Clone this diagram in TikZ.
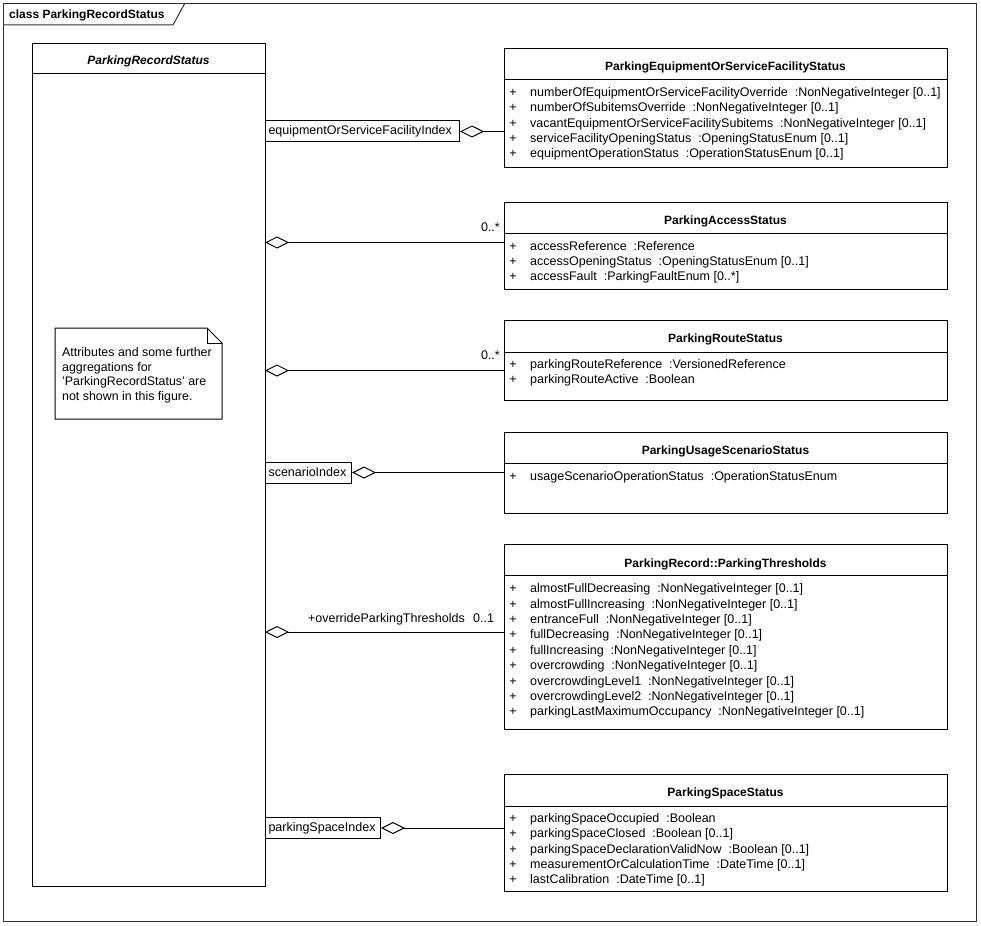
\documentclass[tikz,border=0pt]{standalone}
\usepackage{fontspec}
\setmainfont{Liberation Sans}
\usetikzlibrary{arrows.meta}
\newcommand\tsp{\hspace{6.9pt}}
\newcommand\attrlist[4]{%
  \foreach \t [count=\i from 0] in {#4}{%
    \node[plus] (#1p\i) at (513,#2+\i*#3) {+};
    \node[attr] (#1a\i) at (530,#2+\i*#3) {\t};
  }}
\begin{document}
\begin{tikzpicture}[x=1pt,y=-1pt,
  box/.style={draw=black,line width=1pt,fill=white,inner sep=0pt},
  ttl/.style={font=\fontsize{12}{14}\selectfont\bfseries,inner sep=0pt,anchor=mid,yshift=-3pt},
  attr/.style={font=\fontsize{12.5}{14}\selectfont,inner sep=0pt,anchor=mid west,yshift=-2pt},
  plus/.style={font=\fontsize{12.5}{14}\selectfont,inner sep=0pt,anchor=mid,yshift=-2pt},
  qual/.style={draw=black,line width=1pt,font=\fontsize{12.5}{14}\selectfont,inner xsep=3pt,inner ysep=0pt,minimum height=21pt,anchor=west,align=left},
  aggr/.style={{Diamond[open,length=24pt,width=12pt]}-,line width=1pt},
  lbl/.style={font=\fontsize{12.5}{14}\selectfont,inner sep=0pt,yshift=-2pt},
  hdr/.style={line width=1pt}
]
\useasboundingbox (0,0) rectangle (981,925);
% frame
\node[draw=black!80,line width=1pt,minimum width=973pt,minimum height=918pt,anchor=north west,inner sep=0pt] (frame) at (3,3) {};
\draw[draw=black!80,line width=1pt] (3,25) -- (173,25) -- (185,3);
\node[font=\fontsize{12}{14}\selectfont\bfseries,inner sep=0pt,anchor=mid west,yshift=-2pt] (frametitle) at (9,14) {class ParkingRecordStatus};

% main class
\node[box,minimum width=233pt,minimum height=843pt,anchor=north west] (main) at (32,43) {};
\draw[hdr] ([yshift=-31pt]main.north west) -- ([yshift=-31pt]main.north east);
\node[ttl,font=\fontsize{12}{14}\selectfont\bfseries\itshape] (maint) at (148.5,59) {ParkingRecordStatus};

% note
\draw[line width=1pt,fill=white] (55,328) -- (207,328) -- (222,343) -- (222,419) -- (55,419) -- cycle;
\draw[line width=0.8pt] (207,328) -- (207,343) -- (222,343);
\node[font=\fontsize{12.4}{14.6}\selectfont,inner sep=0pt,anchor=north west,align=left] (note) at (62,347.5)
  {Attributes and some further\\aggregations for\\'ParkingRecordStatus' are\\not shown in this figure.};

% ParkingEquipmentOrServiceFacilityStatus
\node[box,minimum width=443pt,minimum height=119pt,anchor=north west] (eq) at (504,48) {};
\draw[hdr] ([yshift=-32pt]eq.north west) -- ([yshift=-32pt]eq.north east);
\node[ttl] (eqt) at (725.5,65) {ParkingEquipmentOrServiceFacilityStatus};
\attrlist{eq}{92}{15.2}{{numberOfEquipmentOrServiceFacilityOverride\tsp:NonNegativeInteger [0..1]},
  {numberOfSubitemsOverride\tsp:NonNegativeInteger [0..1]},
  {vacantEquipmentOrServiceFacilitySubitems\tsp:NonNegativeInteger [0..1]},
  {serviceFacilityOpeningStatus\tsp:OpeningStatusEnum [0..1]},
  {equipmentOperationStatus\tsp:OperationStatusEnum [0..1]}}

% ParkingAccessStatus
\node[box,minimum width=443pt,minimum height=87pt,anchor=north west] (acc) at (504,202) {};
\draw[hdr] ([yshift=-31pt]acc.north west) -- ([yshift=-31pt]acc.north east);
\node[ttl] (acct) at (725.5,218.5) {ParkingAccessStatus};
\attrlist{acc}{246}{15}{{accessReference\tsp:Reference},
  {accessOpeningStatus\tsp:OpeningStatusEnum [0..1]},
  {accessFault\tsp:ParkingFaultEnum [0..*]}}

% ParkingRouteStatus
\node[box,minimum width=443pt,minimum height=80pt,anchor=north west] (route) at (504,320) {};
\draw[hdr] ([yshift=-32pt]route.north west) -- ([yshift=-32pt]route.north east);
\node[ttl] (routet) at (725.5,337) {ParkingRouteStatus};
\attrlist{route}{363.5}{15.5}{{parkingRouteReference\tsp:VersionedReference},
  {parkingRouteActive\tsp:Boolean}}

% ParkingUsageScenarioStatus
\node[box,minimum width=443pt,minimum height=81pt,anchor=north west] (usage) at (504,432) {};
\draw[hdr] ([yshift=-31pt]usage.north west) -- ([yshift=-31pt]usage.north east);
\node[ttl] (usaget) at (725.5,449) {ParkingUsageScenarioStatus};
\attrlist{usage}{476}{15}{{usageScenarioOperationStatus\tsp:OperationStatusEnum}}

% ParkingRecord::ParkingThresholds
\node[box,minimum width=443pt,minimum height=185pt,anchor=north west] (thr) at (504,544) {};
\draw[hdr] ([yshift=-31pt]thr.north west) -- ([yshift=-31pt]thr.north east);
\node[ttl] (thrt) at (725.5,561.5) {ParkingRecord::ParkingThresholds};
\attrlist{thr}{588.3}{15.35}{{almostFullDecreasing\tsp:NonNegativeInteger [0..1]},
  {almostFullIncreasing\tsp:NonNegativeInteger [0..1]},
  {entranceFull\tsp:NonNegativeInteger [0..1]},
  {fullDecreasing\tsp:NonNegativeInteger [0..1]},
  {fullIncreasing\tsp:NonNegativeInteger [0..1]},
  {overcrowding\tsp:NonNegativeInteger [0..1]},
  {overcrowdingLevel1\tsp:NonNegativeInteger [0..1]},
  {overcrowdingLevel2\tsp:NonNegativeInteger [0..1]},
  {parkingLastMaximumOccupancy\tsp:NonNegativeInteger [0..1]}}

% ParkingSpaceStatus
\node[box,minimum width=443pt,minimum height=117pt,anchor=north west] (space) at (504,774) {};
\draw[hdr] ([yshift=-32pt]space.north west) -- ([yshift=-32pt]space.north east);
\node[ttl] (spacet) at (725.5,791) {ParkingSpaceStatus};
\attrlist{space}{818}{15.2}{{parkingSpaceOccupied\tsp:Boolean},
  {parkingSpaceClosed\tsp:Boolean [0..1]},
  {parkingSpaceDeclarationValidNow\tsp:Boolean [0..1]},
  {measurementOrCalculationTime\tsp:DateTime [0..1]},
  {lastCalibration\tsp:DateTime [0..1]}}

% qualifiers
\node[qual,text width=188pt] (q1) at (265,131.5) {equipmentOrServiceFacilityIndex};
\node[qual,text width=80pt] (q2) at (265,472.5) {scenarioIndex};
\node[qual,text width=109pt] (q3) at (265,828) {parkingSpaceIndex};

% connectors
\coordinate (p2) at (265,242.5);
\coordinate (p3) at (265,370.5);
\coordinate (p5) at (265,632);
\draw[aggr] (q1.east) -- (q1.east -| eq.west);
\draw[aggr] (p2) -- (p2 -| acc.west);
\draw[aggr] (p3) -- (p3 -| route.west);
\draw[aggr] (q2.east) -- (q2.east -| usage.west);
\draw[aggr] (p5) -- (p5 -| thr.west);
\draw[aggr] (q3.east) -- (q3.east -| space.west);

% labels
\node[lbl,anchor=mid east] (m2) at (500,227) {0..*};
\node[lbl,anchor=mid east] (m3) at (500,355) {0..*};
\node[lbl,anchor=mid east] (r5) at (465,618) {+overrideParkingThresholds};
\node[lbl,anchor=mid west] (m5) at (473,618) {0..1};
\end{tikzpicture}
\end{document}
